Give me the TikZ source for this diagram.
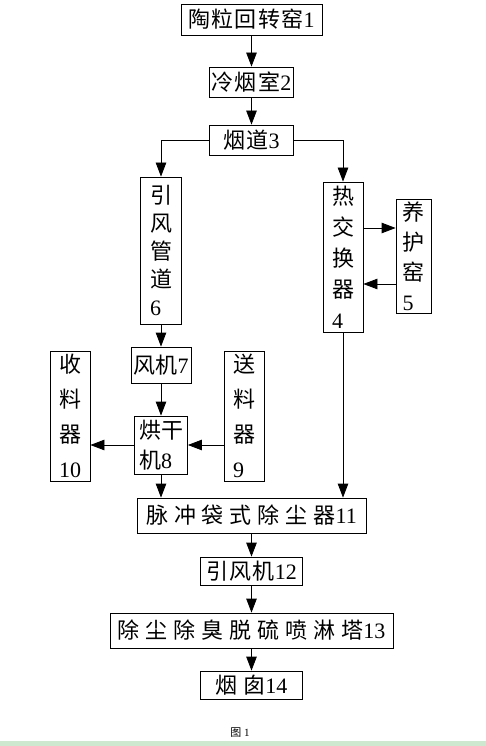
\documentclass[tikz,border=0pt]{standalone}
\usepackage{fontspec}
\setmainfont{Liberation Serif}
\newfontfamily\cjk[LetterSpace=6]{Noto Sans CJK SC}
\newfontfamily\cjkwide[LetterSpace=27]{Noto Sans CJK SC}
\newfontfamily\cjkplain{Noto Sans CJK SC}
\usetikzlibrary{arrows.meta}
\definecolor{bandgreen}{RGB}{205,232,207}
\newcommand{\zh}[1]{{\cjk #1}}
\newcommand{\zhw}[1]{{\cjkwide #1}}
\newcommand{\zhv}[1]{{\cjkplain #1}}

\begin{document}
\begin{tikzpicture}[x=1pt,y=-1pt,
    unit/.style={draw, line width=0.8pt, inner sep=0pt, align=center,
      font=\fontsize{22}{28}\selectfont},
    tallunit/.style={unit, align=left},
    flow/.style={line width=0.8pt, -{Triangle[length=14pt,width=10.5pt]}}]
                \newcommand{\mainx}{251.5}
                \newcommand{\leftx}{161}

                % Page frame and green band
                \useasboundingbox (0,0) rectangle (486,746);
                \fill[bandgreen] (0,741) rectangle (486,746);

                % Main column
                \node[unit, minimum width=141pt, minimum height=31pt] (kiln) at (\mainx,19.5) {\zh{陶粒回转窑}1};
                \node[unit, minimum width=84pt, minimum height=30pt] (cooler) at (\mainx,82) {\zh{冷烟室}2};
                \node[unit, minimum width=84pt, minimum height=30pt] (flue) at (\mainx,140) {\zh{烟道}3};

                % Left branch
                \node[tallunit, minimum width=41pt, minimum height=147pt] (duct) at (\leftx,250.5) {\zhv{引}\\\zhv{风}\\\zhv{管}\\\zhv{道}\\6};
                \node[unit, minimum width=60pt, minimum height=36pt] (fan) at (\leftx,365) {\zhv{风机}7};
                \node[tallunit, minimum width=53pt, minimum height=58pt, font=\fontsize{22}{30}\selectfont] (dryer) at (\leftx,445) {\zhv{烘干}\\\zhv{机}8};
                \node[tallunit, minimum width=40pt, minimum height=130pt, font=\fontsize{22}{35}\selectfont] (collect) at (70,416) {\zhv{收}\\\zhv{料}\\\zhv{器}\\10};
                \node[tallunit, minimum width=40pt, minimum height=130pt, font=\fontsize{22}{35}\selectfont] (feed) at (244,416) {\zhv{送}\\\zhv{料}\\\zhv{器}\\9};

                % Right branch
                \node[tallunit, minimum width=40pt, minimum height=150pt, font=\fontsize{22}{31}\selectfont] (exch) at (343,257) {\zhv{热}\\\zhv{交}\\\zhv{换}\\\zhv{器}\\4};
                \node[tallunit, minimum width=35pt, minimum height=114pt, font=\fontsize{22}{30}\selectfont] (cure) at (413.5,256) {\zhv{养}\\\zhv{护}\\\zhv{窑}\\5};

                % Lower column
                \node[unit, minimum width=229pt, minimum height=35pt] (bag) at (\mainx,515.5) {\zhw{脉冲袋式除尘器}11};
                \node[unit, minimum width=102pt, minimum height=28pt] (idfan) at (\mainx,571) {\zh{引风机}12};
                \node[unit, minimum width=283pt, minimum height=35pt] (tower) at (\mainx,630.5) {\zhw{除尘除臭脱硫喷淋塔}13};
                \node[unit, minimum width=102pt, minimum height=28pt] (stack) at (\mainx,685) {\zhw{烟囱}14};

                \node (cap) at (240,732.5) {\fontsize{11}{12}\selectfont\zhv{图} 1};

                % Draw connectors
                \draw[flow] (kiln) -- (cooler);
                \draw[flow] (cooler) -- (flue);
                \draw[flow] (flue.west) -| (duct.north);
                \draw[flow] (flue.east) -| (exch.north);
                \draw[flow] ([yshift=29pt]exch.east) -- ([yshift=29pt]exch.east -| cure.west);
                \draw[flow] ([yshift=-28pt]cure.west) -- ([yshift=-28pt]cure.west -| exch.east);
                \draw[flow] (duct) -- (fan);
                \draw[flow] (fan) -- (dryer);
                \draw[flow] (dryer.west) -- (dryer.west -| collect.east);
                \draw[flow] (dryer.east -| feed.west) -- (dryer.east);
                \draw[flow] (dryer.south) -- (dryer.south |- bag.north);
                \draw[flow] (exch.south) -- (exch.south |- bag.north);
                \draw[flow] (bag) -- (idfan);
                \draw[flow] (idfan) -- (tower);
                \draw[flow] (tower) -- (stack);
            \end{tikzpicture}
\end{document}
